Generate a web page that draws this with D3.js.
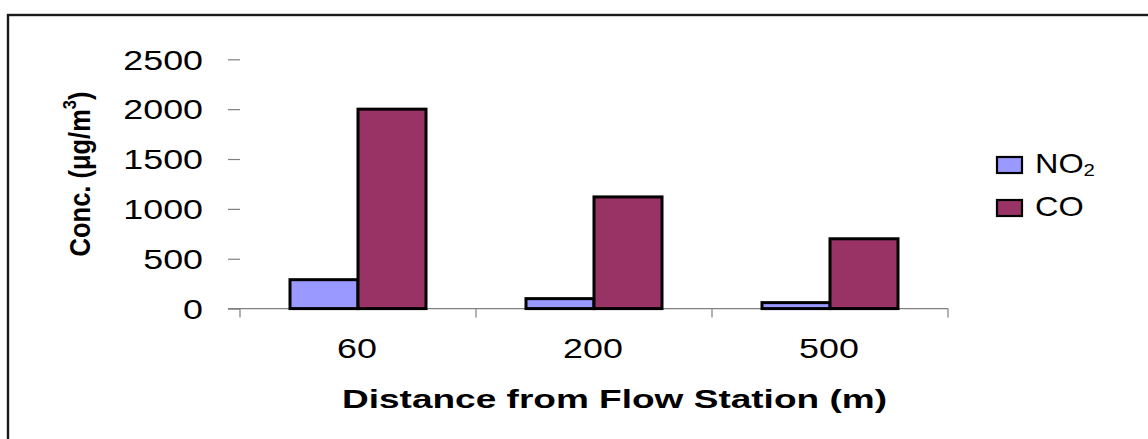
<!DOCTYPE html>
<html>
<head>
<meta charset="utf-8">
<script src="https://cdn.jsdelivr.net/npm/d3@7"></script>
<style>
  html, body { margin: 0; padding: 0; background: #fff; }
  svg { display: block; font-family: "Liberation Sans", Arial, sans-serif; }
</style>
</head>
<body>
<svg id="chart" width="1148" height="439"></svg>
<script>
const categories = ["60", "200", "500"];
const seriesNames = ["NO2", "CO"];
const no2Values = [290, 100, 60];
const coValues = [2000, 1120, 700];
const yTickValues = [0, 500, 1000, 1500, 2000, 2500];
const seriesColors = ["#9999FF", "#993366"];
const xTitle = "Distance from Flow Station (m)";

const svg = d3.select("#chart");

// outer frame (top and left edges visible)
svg.append("rect")
  .attr("x", 8).attr("y", 15).attr("width", 1400).attr("height", 600)
  .attr("fill", "none").attr("stroke", "#1a1a1a").attr("stroke-width", 2.4);

const y = d3.scaleLinear().domain([0, 2500]).range([308.6, 59.3]);
const x0 = d3.scaleBand().domain(categories).range([240, 948]).padding(0);
const x1 = d3.scaleBand().domain(seriesNames).range([50, 186]).padding(0);

// Y axis (ticks only, no domain line)
const yAxis = svg.append("g").attr("transform", "translate(240,0)")
  .call(d3.axisLeft(y).tickValues(yTickValues).tickSize(12).tickFormat(d3.format("d")));
yAxis.select(".domain").remove();
yAxis.selectAll(".tick line").attr("stroke", "#808080").attr("stroke-width", 1.2);
yAxis.selectAll(".tick text")
  .attr("x", 0).attr("dy", "0.35em")
  .attr("text-anchor", "end")
  .attr("font-size", 28)
  .attr("font-family", "Liberation Sans, Arial, sans-serif")
  .attr("fill", "#000")
  .attr("transform", "translate(-37,0) scale(1.28,1)");

// X axis line and ticks at band boundaries
const xAxis = svg.append("g");
xAxis.append("line")
  .attr("x1", 228).attr("x2", x0.range()[1])
  .attr("y1", y(0)).attr("y2", y(0))
  .attr("stroke", "#808080").attr("stroke-width", 1.2);
const boundaries = categories.map(c => x0(c)).concat([x0(categories[categories.length - 1]) + x0.bandwidth()]);
xAxis.selectAll("line.xt").data(boundaries).join("line")
  .attr("class", "xt")
  .attr("x1", d => d).attr("x2", d => d)
  .attr("y1", y(0)).attr("y2", y(0) + 9)
  .attr("stroke", "#808080").attr("stroke-width", 1.2);
xAxis.selectAll("text.xl").data(categories).join("text")
  .attr("class", "xl")
  .attr("text-anchor", "middle")
  .attr("font-size", 28)
  .attr("fill", "#000")
  .attr("transform", d => `translate(${x0(d) + x0.bandwidth() / 2 - 1},358) scale(1.28,1)`)
  .text(d => d);

// Bars
const rows = categories.map((c, i) => ({ cat: c, vals: [no2Values[i], coValues[i]] }));
const groups = svg.append("g").selectAll("g").data(rows).join("g")
  .attr("transform", d => `translate(${x0(d.cat)},0)`);
groups.selectAll("rect").data(d => d.vals.map((v, j) => ({ key: seriesNames[j], v, j })))
  .join("rect")
  .attr("x", d => x1(d.key))
  .attr("width", x1.bandwidth())
  .attr("y", d => y(d.v))
  .attr("height", d => y(0) - y(d.v))
  .attr("fill", d => seriesColors[d.j])
  .attr("stroke", "#000")
  .attr("stroke-width", 3);

// Y title
const yt = svg.append("text")
  .attr("transform", "translate(90,174) rotate(-90) scale(1.02,1.15)")
  .attr("text-anchor", "middle")
  .attr("font-size", 25)
  .attr("font-weight", "bold")
  .attr("fill", "#000");
yt.append("tspan").text("Conc. (μg/m");
yt.append("tspan").attr("font-size", 16).attr("dy", -12).text("3");
yt.append("tspan").attr("dy", 12).text(")");

// X title
svg.append("text")
  .attr("x", 342).attr("y", 408)
  .attr("font-size", 25)
  .attr("font-weight", "bold")
  .attr("fill", "#000")
  .attr("textLength", 545)
  .attr("lengthAdjust", "spacingAndGlyphs")
  .text(xTitle);

// Legend
const legendY = [157, 200];
const legend = svg.append("g");
const items = legend.selectAll("g").data(seriesNames).join("g")
  .attr("transform", (d, i) => `translate(997,${legendY[i]})`);
items.append("rect")
  .attr("x", 0).attr("y", 0).attr("width", 25).attr("height", 16)
  .attr("fill", (d, i) => seriesColors[i])
  .attr("stroke", "#000").attr("stroke-width", 2.2);
const lt = items.append("text")
  .attr("transform", "translate(38,16) scale(1.2,1)")
  .attr("font-size", 27)
  .attr("fill", "#000");
lt.each(function(d) {
  const t = d3.select(this);
  if (d === "NO2") {
    t.append("tspan").text("NO");
    t.append("tspan").attr("font-size", 17).attr("dy", 3).text("2");
  } else {
    t.append("tspan").text(d);
  }
});
</script>
</body>
</html>
